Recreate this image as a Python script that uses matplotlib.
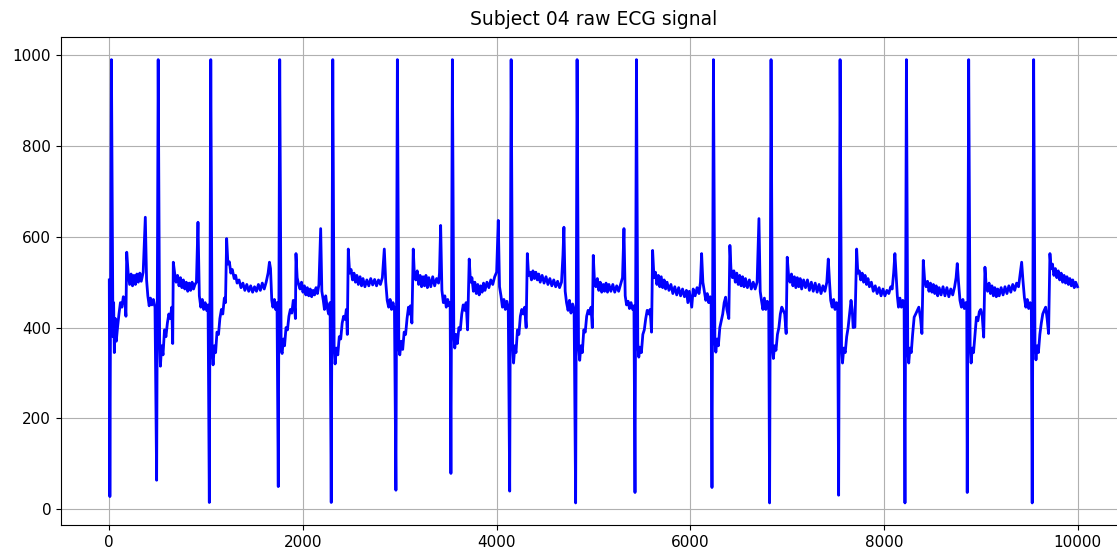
import matplotlib
matplotlib.use("Agg")
import matplotlib.pyplot as plt
import numpy as np

title = "Subject 04 raw ECG signal"

# Key points (sample index, raw ADC value), beat by beat
sample_idx = [
    0, 6, 22, 38, 45, 52, 62, 72, 85, 100, 115, 130, 145, 160, 172, 180, 195, 210, 225, 240, 255, 270, 285, 300, 315, 330, 350, 372, 385, 398, 412, 425, 440, 455, 472,
    489, 505, 520, 528, 540, 555, 570, 585, 600, 615, 630, 645, 655, 661, 675, 690, 705, 720, 735, 750, 765, 780, 795, 810, 825, 840, 855, 870, 885, 900, 916, 930, 945, 960, 975, 990, 1005, 1020,
    1033, 1048, 1062, 1072, 1085, 1098, 1112, 1128, 1142, 1158, 1172, 1188, 1200, 1212, 1225, 1240, 1255, 1270, 1290, 1305, 1320, 1340, 1360, 1380, 1400, 1420, 1440, 1460, 1480, 1500, 1520, 1540, 1560, 1580, 1600, 1620, 1640, 1654, 1665, 1678, 1690, 1705, 1718, 1732,
    1745, 1760, 1775, 1785, 1798, 1810, 1825, 1840, 1855, 1870, 1885, 1900, 1912, 1922, 1928, 1940, 1955, 1970, 1985, 2000, 2015, 2030, 2045, 2060, 2075, 2090, 2105, 2120, 2135, 2150, 2165, 2183, 2195, 2210, 2222, 2235, 2250, 2265, 2280,
    2292, 2308, 2322, 2332, 2345, 2360, 2375, 2390, 2405, 2420, 2435, 2448, 2458, 2468, 2482, 2497, 2512, 2527, 2542, 2557, 2572, 2590, 2605, 2620, 2640, 2660, 2680, 2700, 2720, 2740, 2760, 2780, 2800, 2820, 2840, 2855, 2870, 2885, 2900, 2915, 2930, 2945,
    2960, 2975, 2990, 3000, 3015, 3030, 3045, 3060, 3075, 3090, 3100, 3110, 3125, 3139, 3150, 3165, 3180, 3195, 3210, 3225, 3240, 3255, 3270, 3285, 3300, 3320, 3340, 3360, 3380, 3400, 3410, 3422, 3435, 3450, 3465, 3480, 3495, 3510, 3520,
    3528, 3543, 3558, 3568, 3580, 3595, 3610, 3625, 3640, 3655, 3670, 3685, 3700, 3717, 3730, 3745, 3760, 3775, 3790, 3805, 3820, 3835, 3850, 3865, 3880, 3900, 3920, 3940, 3960, 3980, 4000, 4017, 4030, 4045, 4060, 4075, 4090, 4105, 4120,
    4135, 4150, 4165, 4175, 4188, 4200, 4215, 4230, 4245, 4260, 4275, 4290, 4305, 4317, 4330, 4345, 4360, 4375, 4390, 4405, 4420, 4435, 4450, 4470, 4490, 4510, 4530, 4550, 4570, 4590, 4610, 4630, 4650, 4670, 4685, 4695, 4708, 4722, 4738, 4752, 4768, 4785, 4800,
    4816, 4831, 4846, 4858, 4870, 4885, 4900, 4915, 4930, 4945, 4960, 4975, 4988, 4998, 5010, 5025, 5040, 5055, 5070, 5085, 5100, 5115, 5130, 5145, 5160, 5180, 5200, 5220, 5240, 5260, 5280, 5300, 5315, 5328, 5342, 5358, 5372, 5388, 5405, 5418,
    5429, 5444, 5458, 5468, 5480, 5495, 5510, 5525, 5540, 5555, 5570, 5585, 5600, 5611, 5625, 5640, 5655, 5670, 5685, 5700, 5715, 5730, 5745, 5760, 5780, 5800, 5820, 5840, 5860, 5880, 5900, 5920, 5940, 5960, 5975, 5990, 6015, 6030, 6050, 6070, 6090, 6105, 6117, 6130, 6145, 6160, 6175, 6190, 6205, 6215,
    6224, 6239, 6254, 6264, 6276, 6290, 6305, 6320, 6335, 6350, 6365, 6378, 6398, 6409, 6420, 6435, 6450, 6465, 6480, 6495, 6510, 6525, 6540, 6555, 6570, 6590, 6610, 6630, 6650, 6670, 6690, 6709, 6722, 6735, 6750, 6765, 6780, 6795, 6810,
    6819, 6834, 6848, 6858, 6870, 6885, 6900, 6915, 6930, 6945, 6960, 6975, 6990, 7001, 7015, 7030, 7045, 7060, 7075, 7090, 7105, 7120, 7135, 7150, 7170, 7190, 7210, 7230, 7250, 7270, 7290, 7310, 7330, 7350, 7370, 7390, 7410, 7425, 7438, 7450, 7465, 7480, 7495, 7510, 7522,
    7532, 7547, 7562, 7572, 7585, 7600, 7615, 7630, 7645, 7660, 7672, 7682, 7700, 7718, 7730, 7745, 7760, 7775, 7790, 7805, 7820, 7835, 7850, 7870, 7890, 7910, 7930, 7950, 7970, 7990, 8010, 8030, 8050, 8070, 8085, 8100, 8113, 8125, 8138, 8150, 8165, 8180, 8195, 8208,
    8217, 8232, 8246, 8256, 8268, 8282, 8296, 8312, 8328, 8345, 8360, 8378, 8392, 8406, 8420, 8435, 8450, 8465, 8480, 8495, 8510, 8525, 8540, 8555, 8570, 8590, 8610, 8630, 8650, 8670, 8690, 8710, 8730, 8745, 8757, 8770, 8785, 8800, 8815, 8830, 8845, 8855,
    8860, 8875, 8890, 8900, 8912, 8925, 8940, 8955, 8970, 8985, 9000, 9015, 9030, 9043, 9055, 9070, 9085, 9100, 9115, 9130, 9145, 9160, 9175, 9190, 9210, 9230, 9250, 9270, 9290, 9310, 9330, 9350, 9370, 9390, 9405, 9422, 9435, 9450, 9465, 9480, 9495, 9510, 9522,
    9531, 9546, 9560, 9570, 9582, 9595, 9610, 9625, 9640, 9655, 9670, 9685, 9700, 9714, 9725, 9740, 9755, 9770, 9785, 9800, 9815, 9830, 9845, 9860, 9875, 9890, 9905, 9920, 9935, 9950, 9965, 9980, 9999,
]

ecg_raw = [
    505, 28, 990, 380, 455, 345, 420, 370, 400, 430, 455, 445, 468, 460, 425, 566, 520, 495, 518, 492, 515, 495, 518, 500, 520, 502, 522, 643, 505, 470, 448, 465, 450, 462, 445,
    64, 990, 372, 315, 360, 340, 395, 380, 410, 430, 420, 445, 365, 544, 520, 500, 515, 492, 510, 488, 505, 485, 500, 480, 498, 482, 500, 485, 495, 500, 632, 470, 445, 462, 440, 455, 438, 450,
    15, 990, 345, 318, 360, 345, 390, 385, 420, 440, 430, 465, 455, 596, 540, 545, 520, 528, 508, 515, 498, 505, 488, 498, 482, 495, 480, 492, 478, 490, 480, 495, 482, 498, 485, 500, 520, 544, 530, 460, 445, 462, 440, 455,
    50, 990, 350, 343, 375, 360, 400, 395, 425, 440, 432, 460, 450, 420, 563, 510, 495, 485, 500, 478, 492, 472, 488, 470, 485, 468, 482, 472, 488, 475, 495, 618, 480, 460, 440, 470, 445, 430, 455,
    15, 990, 360, 320, 355, 340, 380, 375, 410, 425, 418, 440, 385, 573, 520, 528, 505, 520, 500, 515, 495, 512, 492, 508, 490, 505, 492, 508, 494, 506, 492, 505, 495, 510, 573, 500, 460, 445, 462, 440, 455, 438,
    42, 990, 355, 340, 370, 352, 390, 385, 420, 445, 430, 448, 410, 573, 520, 505, 525, 495, 515, 490, 512, 492, 515, 488, 510, 490, 512, 492, 508, 498, 520, 625, 482, 455, 470, 445, 462, 448, 455,
    79, 990, 385, 355, 385, 365, 400, 395, 430, 450, 438, 455, 395, 551, 500, 510, 480, 500, 475, 495, 472, 492, 478, 498, 482, 500, 488, 505, 495, 512, 522, 636, 490, 470, 445, 462, 440, 458, 445,
    40, 990, 365, 322, 360, 345, 395, 385, 425, 440, 430, 445, 400, 563, 515, 522, 505, 525, 508, 522, 505, 518, 500, 515, 498, 512, 495, 508, 492, 505, 490, 502, 488, 500, 560, 621, 480, 455, 438, 460, 432, 452, 440,
    14, 990, 360, 328, 360, 345, 395, 390, 425, 438, 430, 445, 400, 559, 505, 490, 508, 482, 500, 478, 495, 480, 498, 478, 495, 480, 495, 478, 492, 480, 495, 510, 618, 470, 450, 458, 442, 455, 440, 448,
    37, 990, 365, 335, 357, 345, 385, 395, 420, 438, 430, 440, 390, 570, 510, 522, 495, 515, 490, 512, 488, 505, 485, 500, 482, 495, 475, 490, 472, 488, 470, 485, 468, 482, 455, 480, 445, 485, 470, 488, 475, 500, 563, 500, 480, 460, 475, 455, 468, 452,
    48, 990, 372, 346, 375, 360, 400, 415, 430, 455, 467, 440, 420, 581, 530, 510, 525, 500, 520, 495, 515, 492, 512, 490, 508, 488, 505, 485, 500, 485, 500, 640, 480, 460, 440, 465, 440, 458, 445,
    14, 990, 357, 332, 360, 350, 385, 400, 430, 445, 438, 430, 387, 555, 515, 500, 518, 492, 512, 488, 510, 490, 508, 485, 505, 488, 505, 482, 500, 480, 498, 478, 495, 475, 492, 480, 500, 551, 500, 460, 445, 462, 440, 455, 445,
    31, 990, 357, 322, 355, 345, 380, 400, 430, 460, 440, 400, 401, 573, 520, 525, 505, 520, 500, 515, 495, 508, 490, 500, 480, 492, 475, 488, 470, 485, 470, 482, 475, 490, 485, 520, 563, 520, 470, 445, 465, 445, 460, 448,
    14, 990, 350, 322, 355, 345, 385, 423, 430, 438, 445, 420, 387, 548, 505, 490, 502, 480, 498, 478, 495, 475, 492, 470, 488, 472, 490, 470, 488, 468, 485, 472, 490, 510, 541, 500, 460, 445, 462, 442, 455, 448,
    37, 990, 357, 322, 355, 345, 385, 423, 415, 435, 440, 425, 379, 533, 495, 480, 498, 475, 492, 470, 488, 468, 485, 470, 488, 472, 490, 475, 492, 478, 495, 482, 498, 490, 515, 544, 505, 467, 445, 462, 442, 455, 448,
    14, 990, 357, 329, 360, 345, 385, 410, 430, 438, 445, 420, 387, 563, 530, 540, 515, 530, 510, 525, 505, 520, 500, 515, 498, 512, 495, 508, 492, 505, 488, 500, 490,
]

x_ticks = [0, 2000, 4000, 6000, 8000, 10000]
y_ticks = [0, 200, 400, 600, 800, 1000]

fig = plt.figure(figsize=(11.17, 5.51), dpi=100)
ax = fig.add_axes([0.0545, 0.047, 0.9535, 0.885])
ax.plot(sample_idx, ecg_raw, color="b", linewidth=2.0)
ax.set_xlim(-499.95, 10498.95)
ax.set_xticks(x_ticks)
ax.set_yticks(y_ticks)
ax.tick_params(labelsize=11)
ax.set_title(title, fontsize=13.5, pad=9)
ax.grid(True)
fig.savefig("out.png", dpi=100)
